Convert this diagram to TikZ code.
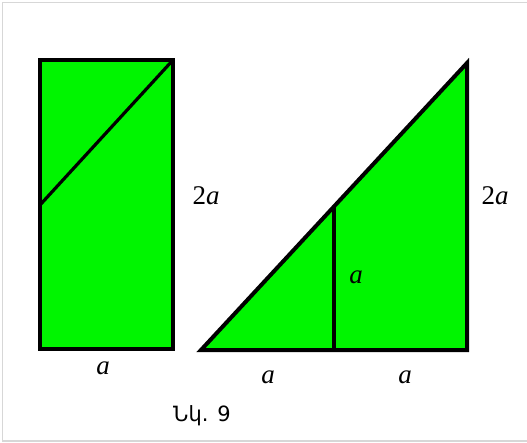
\documentclass[tikz,border=0pt]{standalone}
\usepackage{fontspec}
\setmainfont{Liberation Serif}
\newfontfamily\armfont{DejaVu Sans}
\definecolor{lime}{RGB}{0,245,0}
\definecolor{frame}{RGB}{215,215,215}
\tikzset{
  edge/.style={draw=black,line width=4pt,line join=miter},
  fig/.style={fill=lime,edge},
  lab/.style={inner sep=0pt,font=\fontsize{27}{30}\selectfont}
}
\begin{document}
\begin{tikzpicture}[x=1pt,y=-1pt]
\useasboundingbox (0,0) rectangle (527,443);
\fill[white] (0,0) rectangle (527,443);
\draw[frame,line width=1.5pt] (527,2.5) -- (2.5,2.5) -- (2.5,441) -- (527,441);
% rectangle
\coordinate (r1) at (40,60);
\coordinate (r2) at (173,60);
\coordinate (r3) at (173,349);
\coordinate (r4) at (40,349);
\coordinate (rd) at (40,205);
\path[fig] (r1) -- (r2) -- (r3) -- (r4) -- cycle;
\draw[black,line width=3.2pt] (rd) -- (r2);
% triangle
\coordinate (t1) at (201,350);
\coordinate (t2) at (467,350);
\coordinate (t3) at (467,63);
\coordinate (tm) at (334,350);
\coordinate (tt) at (334,207);
\path[fig] (t1) -- (t2) -- (t3) -- cycle;
\draw[edge] (tm) -- (tt);
% labels
\node[lab] (l1) at (206,196) {2\textit{a}};
\node[lab] (l2) at (103,368) {\textit{a}};
\node[lab] (l3) at (495,196) {2\textit{a}};
\node[lab] (l4) at (356,277) {\textit{a}};
\node[lab] (l5) at (268,377) {\textit{a}};
\node[lab] (l6) at (405,377) {\textit{a}};
\node[inner sep=0pt,font=\armfont\fontsize{21}{24}\selectfont] (cap) at (202,416) {Նկ. 9};
\end{tikzpicture}
\end{document}
